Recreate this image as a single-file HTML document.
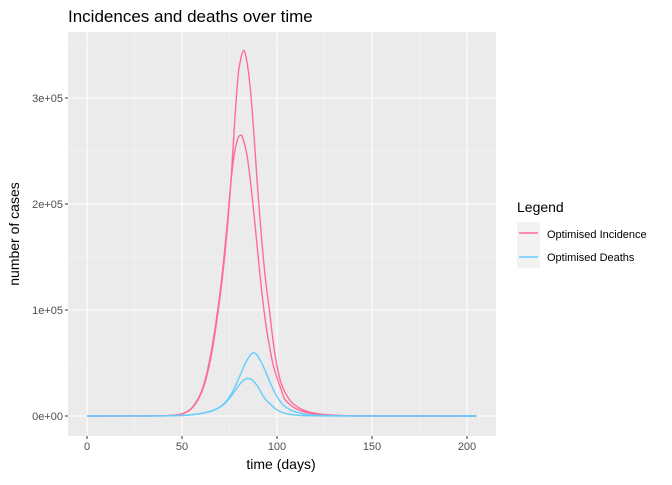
<!DOCTYPE html>
<html><head><meta charset="utf-8"><style>
body{margin:0;background:#fff}
svg{font-family:"Liberation Sans",sans-serif}
</style></head><body>
<svg id="c" width="672" height="480" xmlns="http://www.w3.org/2000/svg">
<text x="68" y="22" font-size="17" fill="#000">Incidences and deaths over time</text>
<rect x="68" y="32" width="428" height="404" fill="#ebebeb"/>
<g id="grid"></g>
<g id="series"></g>
<g id="ticks"></g>
<text x="281" y="469" font-size="14" text-anchor="middle">time (days)</text>
<text transform="translate(19,234) rotate(-90)" font-size="14" text-anchor="middle">number of cases</text>
<g>
<text x="517" y="212" font-size="14">Legend</text>
<rect x="517" y="222" width="23" height="46" fill="#f2f2f2"/>
<line x1="519" x2="538" y1="233" y2="233" stroke="#ff6b9b" stroke-width="1.5"/>
<line x1="519" x2="538" y1="257" y2="257" stroke="#66ccff" stroke-width="1.5"/>
<text x="547" y="238" font-size="11">Optimised Incidence</text>
<text x="547" y="261" font-size="11">Optimised Deaths</text>
</g>
</svg>
<script>
const xTicks=[0,50,100,150,200];
const yTicks=[0,100000,200000,300000];
const yTickLabels=["0e+00","1e+05","2e+05","3e+05"];
const inc1Days=[0,30,40,46,50,52,54,56,58,60,62,64,66,68,70,72,74,76,78,80,82.6,84,86,88,90,92,94,96,98,100,102,104,106,108,110,114,118,124,130,140,155,205];
const inc1Vals=[0,30,200,800,2000,3500,5500,9000,14000,21000,31000,45000,63000,86000,112000,143000,180000,228000,285000,328000,345000,336000,308000,262000,210000,165000,128000,100000,70000,47000,32000,23000,17000,12500,9500,5500,3300,1600,800,200,20,0];
const inc2Days=[0,30,40,46,50,52,54,56,58,60,62,64,66,68,70,72,74,76,78,80,81.2,82,84,86,88,90,92,94,96,98,100,102,104,106,108,110,114,118,124,130,140,155,205];
const inc2Vals=[0,30,200,800,2000,3600,5700,9500,15000,22000,33000,48000,67000,90000,116000,148000,185000,225000,252000,264000,265000,262000,248000,222000,188000,152000,117000,88000,66000,48000,36000,26000,16000,12000,9000,7000,4000,2300,1100,500,100,10,0];
const d1Days=[0,40,50,54,58,62,66,70,72,74,76,78,80,82,84,86,87.5,89,91,93,95,97,99,101,103,105,108,111,114,120,130,140,205];
const d1Vals=[0,100,500,1000,1800,3000,5000,8500,11500,15500,21000,28000,36000,44500,52000,57500,59700,58500,53000,46000,37500,29000,21500,15500,11000,8000,5000,3200,2000,800,200,50,0];
const d2Days=[0,40,50,54,58,62,66,70,72,74,76,78,80,82,84.4,86,88,90,92,94,96,98,100,103,106,110,116,125,140,205];
const d2Vals=[0,100,500,1000,1800,3000,5000,8500,11000,14500,19000,24000,29000,33000,35500,35000,32000,27500,21000,15500,12000,8500,5700,3200,1800,800,300,80,10,0];
const X=d=>87+d*1.9, Y=v=>416-v*106/100000;
const ns="http://www.w3.org/2000/svg";
function mk(t,a,p){const e=document.createElementNS(ns,t);for(const k in a)e.setAttribute(k,a[k]);p.appendChild(e);return e;}
const grid=document.getElementById('grid'),ticks=document.getElementById('ticks'),ser=document.getElementById('series');
[25,75,125,175].forEach(d=>{const l=mk('line',{x1:X(d),x2:X(d),y1:32,y2:436,stroke:'#f5f5f5','stroke-width':0.6},grid);

});
[50000,150000,250000,350000].forEach(v=>{const l=mk('line',{x1:68,x2:496,y1:Y(v),y2:Y(v),stroke:'#f5f5f5','stroke-width':0.6},grid);

});
xTicks.forEach(d=>{const l=mk('line',{x1:X(d),x2:X(d),y1:32,y2:436,stroke:'#fff','stroke-width':1.1},grid);


mk('line',{x1:X(d),x2:X(d),y1:436,y2:439,stroke:'#333'},ticks);
const t=mk('text',{x:X(d),y:450,'font-size':11,'text-anchor':'middle',fill:'#4d4d4d'},ticks);t.textContent=d;

});
yTicks.forEach((v,i)=>{const l=mk('line',{x1:68,x2:496,y1:Y(v),y2:Y(v),stroke:'#fff','stroke-width':1.1},grid);


mk('line',{x1:65,x2:68,y1:Y(v),y2:Y(v),stroke:'#333'},ticks);
const t=mk('text',{x:63,y:Y(v)+4,'font-size':11,'text-anchor':'end',fill:'#4d4d4d'},ticks);t.textContent=yTickLabels[i];

});
// monotone cubic (Fritsch-Carlson)
function path(xs,ys){const n=xs.length,d=[],m=[];
for(let i=0;i<n-1;i++)d.push((ys[i+1]-ys[i])/(xs[i+1]-xs[i]));
m[0]=d[0];m[n-1]=d[n-2];
for(let i=1;i<n-1;i++){if(d[i-1]*d[i]<=0)m[i]=0;else{const h0=xs[i]-xs[i-1],h1=xs[i+1]-xs[i];const w1=2*h1+h0,w2=h1+2*h0;m[i]=(w1+w2)/(w1/d[i-1]+w2/d[i]);}}
let p=`M${X(xs[0])},${Y(ys[0])}`;
for(let i=0;i<n-1;i++){const h=(xs[i+1]-xs[i])/3;
p+=`C${X(xs[i]+h)},${Y(ys[i]+m[i]*h)} ${X(xs[i+1]-h)},${Y(ys[i+1]-m[i+1]*h)} ${X(xs[i+1])},${Y(ys[i+1])}`;}
return p;}
[[inc1Days,inc1Vals,'#ff6b9b','incidence-line-1'],[inc2Days,inc2Vals,'#ff6b9b','incidence-line-2'],[d1Days,d1Vals,'#66ccff','deaths-line-1'],[d2Days,d2Vals,'#66ccff','deaths-line-2']].forEach(s=>{
const e=mk('path',{d:path(s[0],s[1]),fill:'none',stroke:s[2],'stroke-width':1.4},ser);

});
</script>
</body></html>
